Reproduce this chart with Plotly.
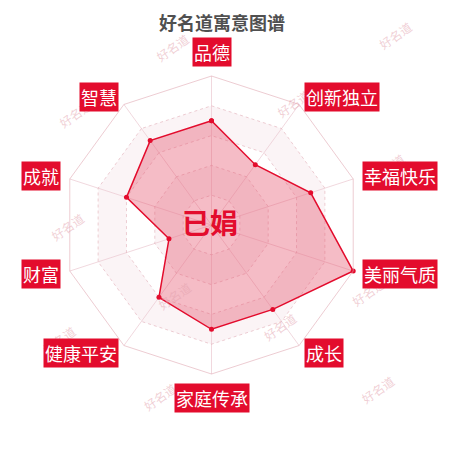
import numpy as np
import plotly.graph_objects as go

# 寓意维度(顺时针, 从正上方开始)与得分
dims = ["品德", "创新独立", "幸福快乐", "美丽气质", "成长",
        "家庭传承", "健康平安", "财富", "成就", "智慧"]
scores = [70, 50, 70, 100, 70, 70, 60, 30, 60, 70]
name = "已娟"
title = "好名道寓意图谱"
watermark = "好名道"
# 水印位置(像素)
wm_x = [172, 417, 293, 53, 410, 45, 390, 280, 37, 160, 400, 152]
wm_y = [27, 15, 83, 93, 147, 226, 292, 347, 360, 417, 410, 295]

W = H = 450
OFF = 8  # 页面 body 的默认边距
cx, cy, R = 211.5 - OFF, 225 - OFF, 149
RED = "#e30c2d"
FONT = "Noto Sans CJK SC"


def px2paper(x, y):
    return (x - OFF) / W, 1 - (y - OFF) / H


fig = go.Figure()

# 分隔区域(间隔的浅色带)
closed = dims + dims[:1]
for lo, hi in [(60, 80), (20, 40)]:
    r = [hi] * 11 + [lo] * 11
    theta = closed + closed[::-1]
    fig.add_trace(go.Scatterpolar(r=r, theta=theta, mode="none", fill="toself",
                                  fillcolor="rgba(236,205,212,0.22)",
                                  hoverinfo="skip", showlegend=False))

fig.add_trace(go.Scatterpolar(
    r=scores + scores[:1], theta=closed, mode="lines+markers",
    fill="toself", fillcolor="rgba(228,80,105,0.38)",
    line=dict(color=RED, width=1.5), marker=dict(color=RED, size=5),
    showlegend=False))

fig.update_layout(
    width=W, height=H, margin=dict(l=0, r=0, t=0, b=0),
    paper_bgcolor="white", plot_bgcolor="white", showlegend=False,
    font=dict(family=FONT),
    polar=dict(
        domain=dict(x=[(cx - R) / W, (cx + R) / W], y=[1 - (cy + R) / H, 1 - (cy - R) / H]),
        bgcolor="rgba(0,0,0,0)",
        gridshape="linear",
        radialaxis=dict(range=[0, 100], tickvals=[20, 40, 60, 80, 100], showticklabels=False,
                        ticks="", showline=False, gridcolor="rgba(225,170,180,0.6)",
                        griddash="dot", gridwidth=1),
        angularaxis=dict(rotation=90, direction="clockwise", showticklabels=False,
                         ticks="", linecolor="rgba(225,170,180,0.6)", linewidth=1,
                         gridcolor="rgba(232,190,200,0.6)", gridwidth=1),
    ),
)

ann = []
# 水印
for x, y in zip(wm_x, wm_y):
    px_, py_ = px2paper(x, y)
    ann.append(dict(x=px_, y=py_, xref="paper", yref="paper", text=watermark,
                    showarrow=False, textangle=-35,
                    font=dict(size=12, color="rgba(226,160,172,0.5)", family=FONT)))

# 维度标签
for i, d in enumerate(dims):
    a = np.deg2rad(i * 360 / len(dims))
    s, c = np.sin(a), np.cos(a)
    px_, py_ = px2paper(211.5 + 158 * s, 225 - 158 * c)
    xa = "left" if s > 0.01 else ("right" if s < -0.01 else "center")
    ya = "middle"
    if abs(s) < 0.01:
        ya = "bottom" if c > 0 else "top"
    ann.append(dict(x=px_, y=py_, xref="paper", yref="paper", text=d,
                    showarrow=False, xanchor=xa, yanchor=ya, bgcolor=RED, borderpad=1,
                    font=dict(size=18, color="white", family=FONT)))

nx, ny = px2paper(210, 221.5)
ann.append(dict(x=nx, y=ny, xref="paper", yref="paper", text="<b>" + name + "</b>",
                showarrow=False, font=dict(size=28, color=RED, family=FONT)))
tx, _ = px2paper(221.5, 0)
ann.append(dict(x=tx, y=1, xref="paper", yref="paper", text="<b>" + title + "</b>",
                showarrow=False, yanchor="top", borderpad=0,
                font=dict(size=18, color="#505050", family=FONT)))
fig.update_layout(annotations=ann)

fig.write_html("out.html")
